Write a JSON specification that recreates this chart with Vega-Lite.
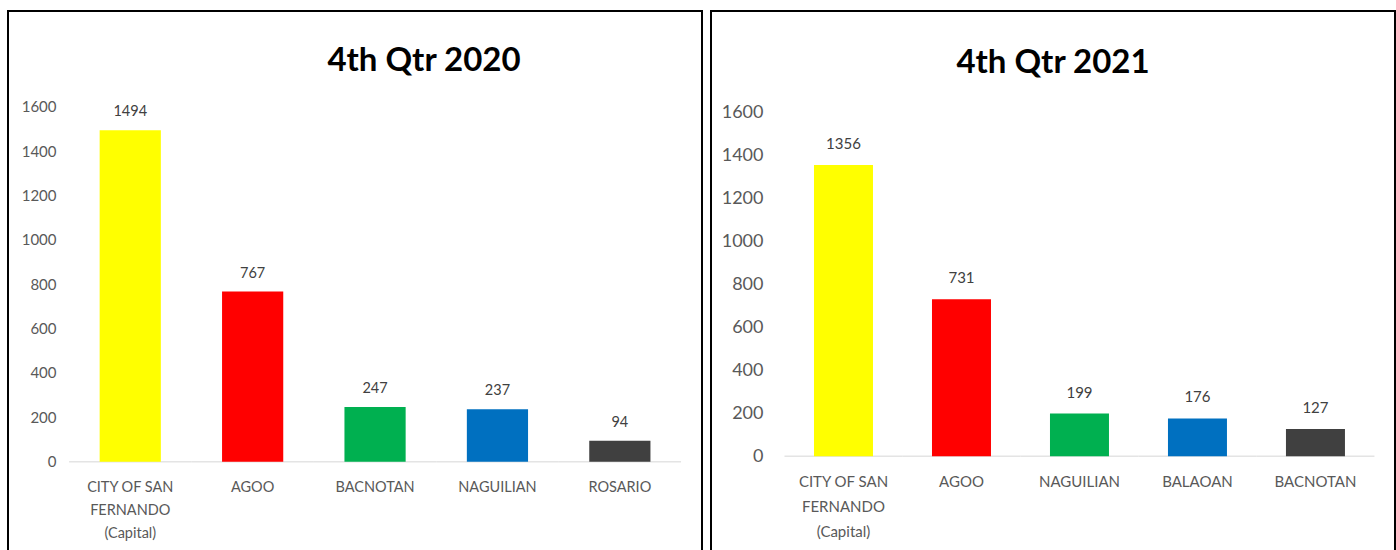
{
  "$schema": "https://vega.github.io/schema/vega-lite/v6.json",
  "padding": {"left": 7, "top": 10, "right": 0, "bottom": 0},
  "spacing": 7,
  "background": "white",
  "config": {
    "view": {"stroke": "black", "strokeWidth": 2},
    "font": "Lato"
  },
  "datasets": {
    "q2020": [
      {"name": "CITY OF SAN FERNANDO (Capital)", "value": 1494},
      {"name": "AGOO", "value": 767},
      {"name": "BACNOTAN", "value": 247},
      {"name": "NAGUILIAN", "value": 237},
      {"name": "ROSARIO", "value": 94}
    ],
    "q2021": [
      {"name": "CITY OF SAN FERNANDO (Capital)", "value": 1356},
      {"name": "AGOO", "value": 731},
      {"name": "NAGUILIAN", "value": 199},
      {"name": "BALAOAN", "value": 176},
      {"name": "BACNOTAN", "value": 127}
    ]
  },
  "resolve": {"scale": {"color": "independent", "x": "independent", "y": "independent"}},
  "hconcat": [
    {
      "width": 694,
      "height": 546,
      "data": {"name": "q2020"},
      "title": {"text": "4th Qtr 2020", "fontSize": 33, "fontWeight": "bold", "font": "Lato", "color": "black", "offset": 0, "baseline": "alphabetic", "dy": 93, "dx": 69, "anchor": "middle"},
      "encoding": {
        "x": {
          "field": "name", "type": "nominal", "sort": null, "title": null,
          "scale": {"paddingInner": 0.5, "paddingOuter": 0.585, "align": 0.64},
          "axis": {"orient": "bottom", "offset": -95.3, "domain": false, "ticks": false, "labelAngle": 0, "labelPadding": 19, "labelDx": 15, "labelFontSize": 14.5, "labelColor": "#595959", "labelLineHeight": 23, "labelBaseline": "top",
            "labelExpr": "datum.value == 'CITY OF SAN FERNANDO (Capital)' ? ['CITY OF SAN', 'FERNANDO', '(Capital)'] : datum.value"}
        },
        "y": {
          "field": "value", "type": "quantitative", "title": null,
          "scale": {"domain": [-429.7, 2032], "nice": false, "zero": false},
          "axis": {"orient": "left", "offset": -48, "domain": false, "ticks": false, "grid": false, "labelPadding": 0, "format": "d", "values": [0, 200, 400, 600, 800, 1000, 1200, 1400, 1600], "labelFontSize": 15, "labelColor": "#595959"}
        }
      },
      "layer": [
        {
          "mark": {"type": "tick", "size": 122.4, "thickness": 1.5, "color": "#d9d9d9"},
          "encoding": {"y": {"datum": 0}}
        },
        {
          "mark": {"type": "bar"},
          "encoding": {
            "y2": {"datum": 0},
            "color": {"field": "name", "type": "nominal", "legend": null,
              "scale": {"domain": ["CITY OF SAN FERNANDO (Capital)", "AGOO", "BACNOTAN", "NAGUILIAN", "ROSARIO"], "range": ["#ffff00", "#ff0000", "#00b050", "#0070c0", "#404040"]}}
          }
        },
        {
          "mark": {"type": "text", "dy": -14, "baseline": "alphabetic", "fontSize": 14.5, "color": "#404040"},
          "encoding": {"text": {"field": "value", "type": "quantitative", "format": "d"}}
        }
      ]
    },
    {
      "width": 684,
      "height": 546,
      "data": {"name": "q2021"},
      "title": {"text": "4th Qtr 2021", "fontSize": 33, "fontWeight": "bold", "font": "Lato", "color": "black", "offset": 0, "baseline": "alphabetic", "dy": 95, "dx": 0, "anchor": "middle"},
      "encoding": {
        "x": {
          "field": "name", "type": "nominal", "sort": null, "title": null,
          "scale": {"paddingInner": 0.5, "paddingOuter": 0.6485, "align": 0.673},
          "axis": {"orient": "bottom", "offset": -100.7, "domain": false, "ticks": false, "labelAngle": 0, "labelPadding": 18, "labelDx": 16, "labelFontSize": 15, "labelColor": "#595959", "labelLineHeight": 25, "labelBaseline": "top",
            "labelExpr": "datum.value == 'CITY OF SAN FERNANDO (Capital)' ? ['CITY OF SAN', 'FERNANDO', '(Capital)'] : datum.value"}
        },
        "y": {
          "field": "value", "type": "quantitative", "title": null,
          "scale": {"domain": [-468.8, 2073.1], "nice": false, "zero": false},
          "axis": {"orient": "left", "offset": -52, "domain": false, "ticks": false, "grid": false, "labelPadding": 0, "format": "d", "values": [0, 200, 400, 600, 800, 1000, 1200, 1400, 1600], "labelFontSize": 18, "labelColor": "#595959"}
        }
      },
      "layer": [
        {
          "mark": {"type": "tick", "size": 118, "thickness": 1.5, "color": "#d9d9d9"},
          "encoding": {"y": {"datum": 0}}
        },
        {
          "mark": {"type": "bar"},
          "encoding": {
            "y2": {"datum": 0},
            "color": {"field": "name", "type": "nominal", "legend": null,
              "scale": {"domain": ["CITY OF SAN FERNANDO (Capital)", "AGOO", "NAGUILIAN", "BALAOAN", "BACNOTAN"], "range": ["#ffff00", "#ff0000", "#00b050", "#0070c0", "#404040"]}}
          }
        },
        {
          "mark": {"type": "text", "dy": -16, "baseline": "alphabetic", "fontSize": 15, "color": "#404040"},
          "encoding": {"text": {"field": "value", "type": "quantitative", "format": "d"}}
        }
      ]
    }
  ]
}
